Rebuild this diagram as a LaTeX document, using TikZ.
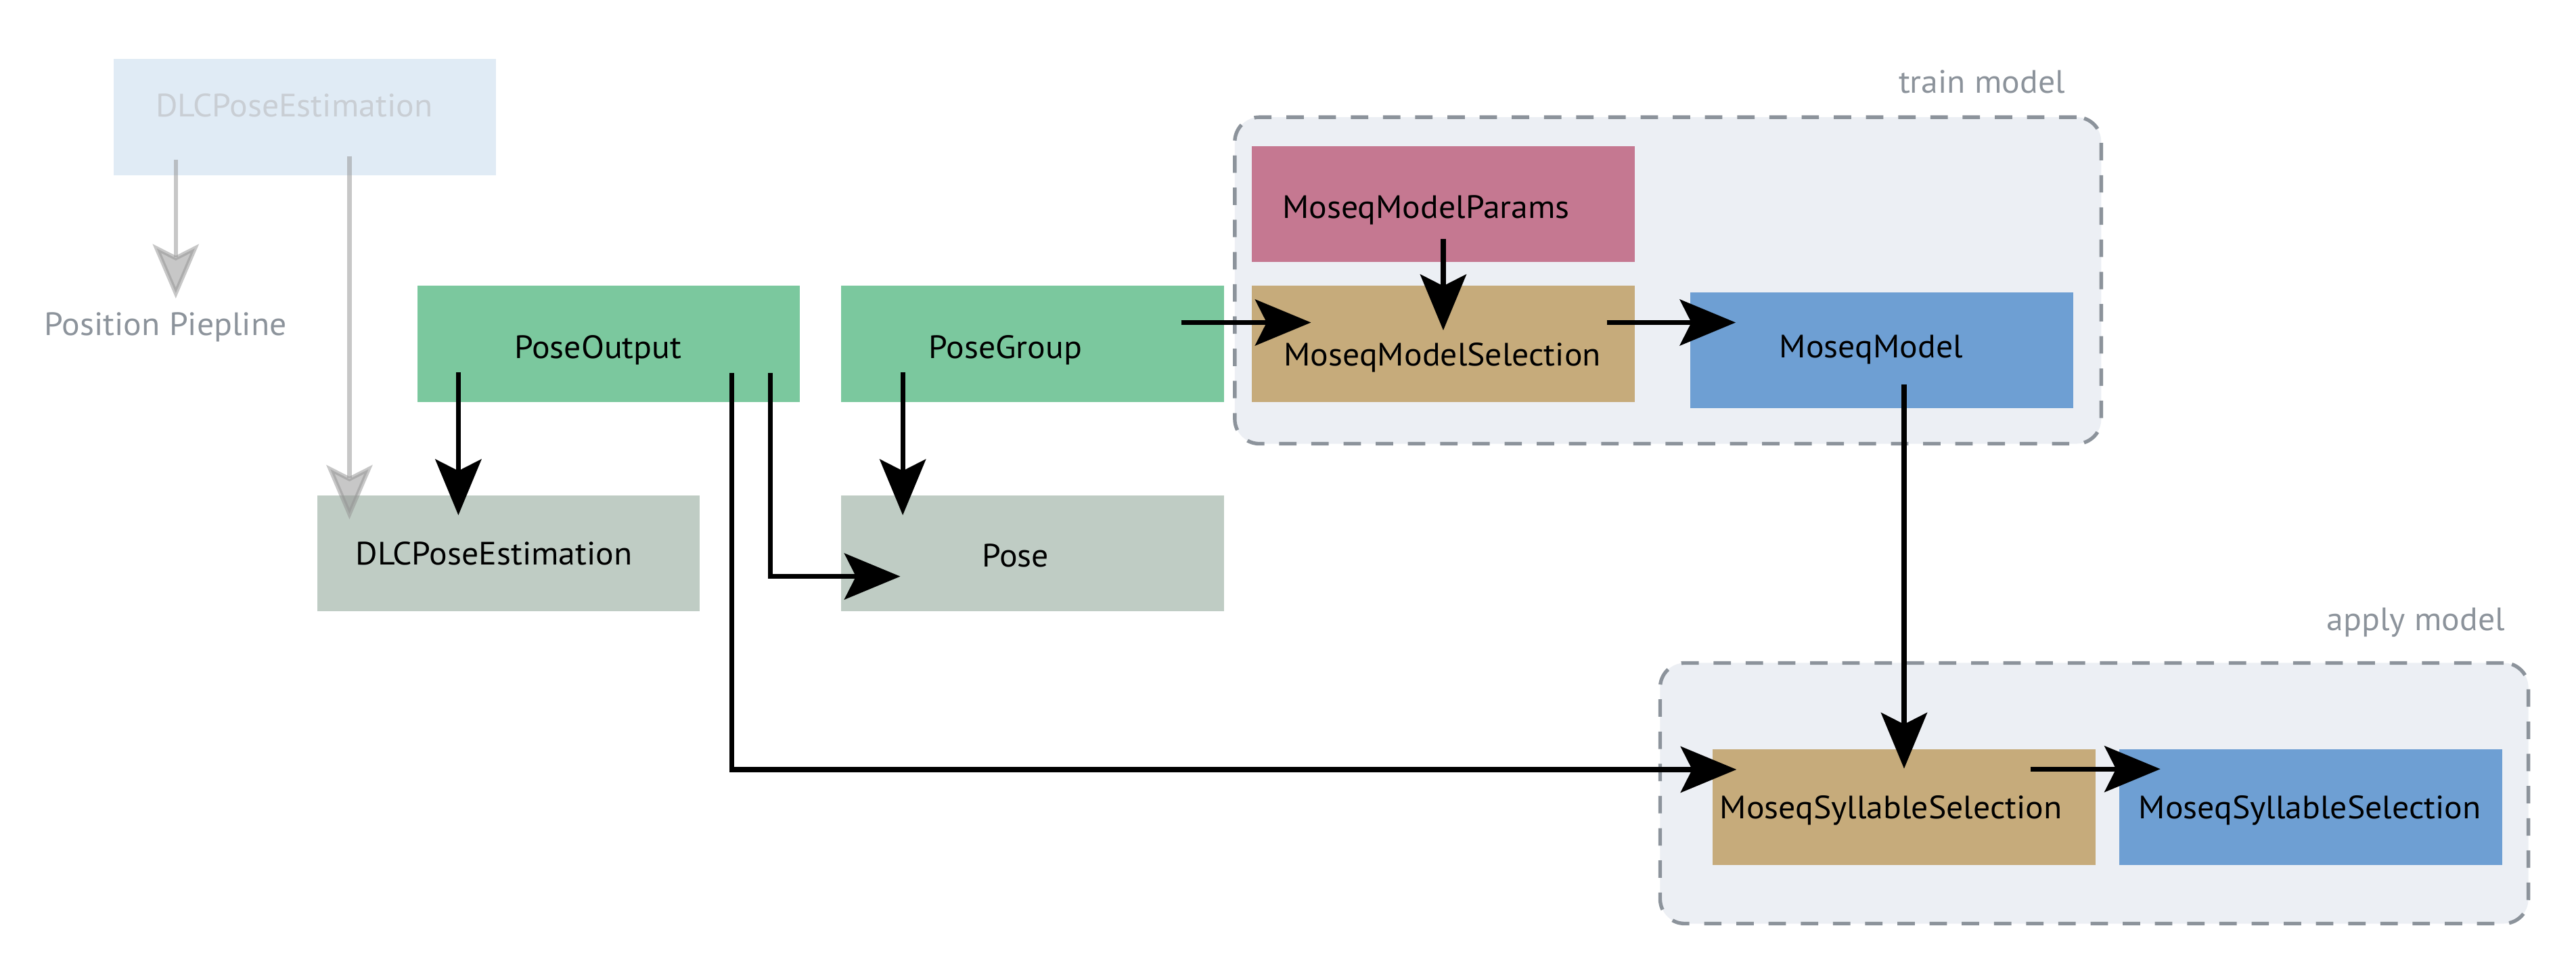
\documentclass[tikz,border=0pt]{standalone}
\usepackage{fontspec}
\setmainfont{PT Sans}[FakeStretch=1.04]
\usetikzlibrary{arrows.meta,calc}
\definecolor{fadebox}{HTML}{E0EBF5}
\definecolor{fadetxt}{HTML}{C9CED4}
\definecolor{poseg}{HTML}{7BC89E}
\definecolor{greyg}{HTML}{BFCCC4}
\definecolor{pinkc}{HTML}{C57891}
\definecolor{tanc}{HTML}{C6AB7B}
\definecolor{bluec}{HTML}{6E9FD3}
\definecolor{grpfill}{HTML}{ECEFF4}
\definecolor{grpline}{HTML}{8C939B}
\definecolor{garrow}{HTML}{949494}
\begin{document}
\begin{tikzpicture}[x=1pt,y=-1pt,
  box/.style={rectangle,draw=none,inner sep=0pt,outer sep=0pt,anchor=north west,minimum width=233pt,minimum height=70.5pt},
  grp/.style={rectangle,rounded corners=15pt,fill=grpfill,draw=grpline,line width=2.2pt,dash pattern=on 10.6pt off 9pt,inner sep=0pt,outer sep=0pt,anchor=north west},
  txt/.style={inner sep=0pt,outer sep=0pt,anchor=base,font=\fontsize{19.7}{22}\selectfont},
  lbl/.style={txt,text=grpline},
  blk/.style={draw=black,line width=3pt,-{Stealth[length=34pt,width=28pt,inset=7pt]}},
  gry/.style={draw=garrow,opacity=0.52,line width=2.6pt,-{Stealth[length=33pt,width=28pt,inset=7pt]}}
]
\useasboundingbox[fill=white] (0,0) rectangle (1568,592.3);
% groups
\node[grp,minimum width=527.4pt,minimum height=198.7pt] (traingrp) at (751.6,71.3) {};
\node[grp,minimum width=528.5pt,minimum height=158.6pt] (applygrp) at (1010.5,403.4) {};
\node[lbl,anchor=base east] (trainlbl) at (1257,56.6) {train model};
\node[lbl,anchor=base east] (applylbl) at (1524.7,383.5) {apply model};
% boxes
\node[box,fill=fadebox] (top) at (69,36) {};
\node[box,fill=poseg] (po) at (254,174) {};
\node[box,fill=poseg] (pg) at (512,174) {};
\node[box,fill=greyg] (dlc) at (193,301.5) {};
\node[box,fill=greyg] (pose) at (512,301.5) {};
\node[box,fill=pinkc] (params) at (762,89) {};
\node[box,fill=tanc] (sel) at (762,174) {};
\node[box,fill=bluec] (model) at (1029,178) {};
\node[box,fill=tanc] (syl1) at (1042.5,456) {};
\node[box,fill=bluec] (syl2) at (1290,456) {};
% texts
\node[txt,text=fadetxt] (ttop) at (179,71) {DLCPoseEstimation};
\node[txt,text=grpline] (pp) at (100.8,204) {Position Piepline};
\node[txt] (tpo) at (364,218) {PoseOutput};
\node[txt] (tpg) at (612,218) {PoseGroup};
\node[txt] (tdlc) at (300.7,343.5) {DLCPoseEstimation};
\node[txt] (tpose) at (618,345) {Pose};
\node[txt] (tparams) at (868,133) {MoseqModelParams};
\node[txt] (tsel) at (878,222.7) {MoseqModelSelection};
\node[txt] (tmodel) at (1139,217.8) {MoseqModel};
\node[txt] (tsyl1) at (1151,498) {MoseqSyllableSelection};
\node[txt] (tsyl2) at (1406,498) {MoseqSyllableSelection};
% grey arrows
\draw[gry] ($(top.south west)+(38,-9.5)$) -- ($(pp.base)+(6.2,-22.4)$);
\draw[gry] ($(top.south west)+(143.7,-11.5)$) -- ($(dlc.north west)+(19.7,14.5)$);
% black arrows
\draw[blk] ($(po.south west)+(25,-18)$) -- ($(dlc.north west)+(86,12)$);
\draw[blk] ($(po.south west)+(215,-17.5)$) |- ($(pose.west)+(36,14)$);
\draw[blk] ($(po.south west)+(191.5,-17.5)$) |- ($(syl1.west)+(14.5,-23)$);
\draw[blk] ($(pg.south west)+(37.5,-18)$) -- ($(pose.north west)+(37.5,12)$);
\draw[blk] ($(pg.east)+(-26,-13)$) -- ($(sel.west)+(36,-13)$);
\draw[blk] ($(params.south)+(0,-14)$) -- ($(sel.north)+(0,27)$);
\draw[blk] ($(sel.east)+(-17,-13)$) -- ($(model.west)+(27.5,-17)$);
\draw[blk] ($(model.south)+(13.5,-14.5)$) -- ($(syl1.north)+(0,11.7)$);
\draw[blk] ($(syl1.east)+(-39.5,-23.3)$) -- ($(syl2.west)+(25,-23.3)$);
\end{tikzpicture}
\end{document}
